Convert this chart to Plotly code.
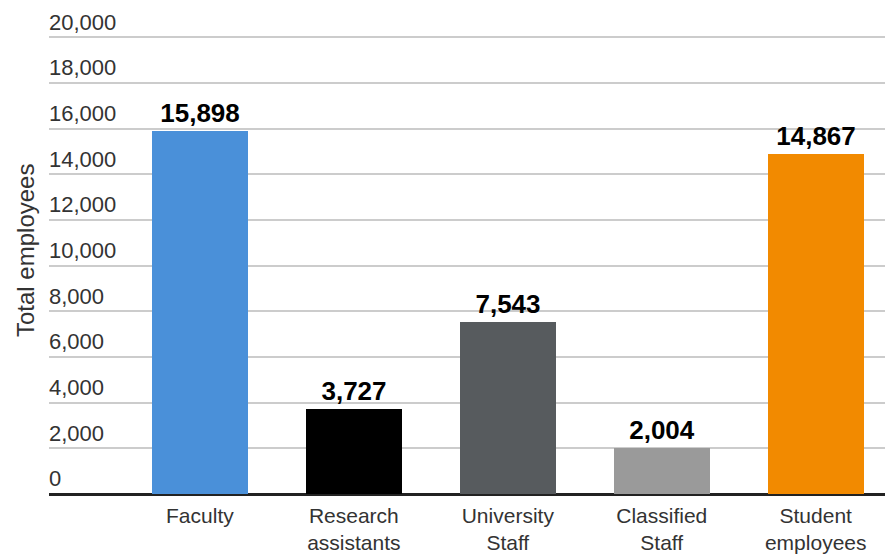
import plotly.graph_objects as go

categories = ["Faculty", "Research<br>assistants", "University<br>Staff", "Classified<br>Staff", "Student<br>employees"]
values = [15898, 3727, 7543, 2004, 14867]
colors = ["#4a90d9", "#000000", "#575b5e", "#9a9a9a", "#f28a00"]
tick_vals = [0, 2000, 4000, 6000, 8000, 10000, 12000, 14000, 16000, 18000, 20000]
tick_text = ["0", "2,000", "4,000", "6,000", "8,000", "10,000", "12,000", "14,000", "16,000", "18,000", "20,000"]
y_title = "Total employees"

FONT = "Liberation Sans, Arial, sans-serif"

fig = go.Figure(go.Bar(
    x=list(range(len(categories))),
    y=values,
    marker=dict(color=colors, line=dict(width=0)),
    width=0.623,
    text=[f"{v:,}" for v in values],
    textposition="outside",
    textfont=dict(family=FONT, size=26, color="#000000", weight="bold"),
    cliponaxis=False,
))

fig.update_layout(
    width=885, height=556,
    margin=dict(l=49, r=0, t=3, b=62),
    plot_bgcolor="white", paper_bgcolor="white",
    showlegend=False,
    font=dict(family=FONT, size=22, color="#333333"),
    bargap=0,
    xaxis=dict(
        tickmode="array",
        tickvals=list(range(len(categories))),
        ticktext=categories,
        range=[-0.98, 4.45],
        showgrid=False,
        zeroline=False,
        showline=False,
        ticks="",
        automargin=False,
        ticklabelstandoff=7,
        tickfont=dict(family=FONT, size=21, color="#333333"),
    ),
    yaxis=dict(
        range=[0, 21500],
        tickmode="array",
        tickvals=tick_vals,
        ticktext=tick_text,
        ticklabelposition="inside top",
        ticklabelstandoff=-3,
        showgrid=True,
        gridcolor="#cccccc",
        gridwidth=1.5,
        zeroline=True,
        zerolinecolor="#222222",
        zerolinewidth=3,
        showline=False,
        ticks="",
        automargin=False,
        tickfont=dict(family=FONT, size=22, color="#333333"),
    ),
    annotations=[dict(
        text=y_title, textangle=-90,
        xref="paper", yref="paper",
        x=(25 - 49) / 836, y=(494 - 251) / 491,
        xanchor="center", yanchor="middle",
        showarrow=False,
        font=dict(family=FONT, size=24, color="#333333"),
    )],
)

fig.write_html("out.html", config={"displayModeBar": False},
               post_script="document.body.style.margin='0';")
